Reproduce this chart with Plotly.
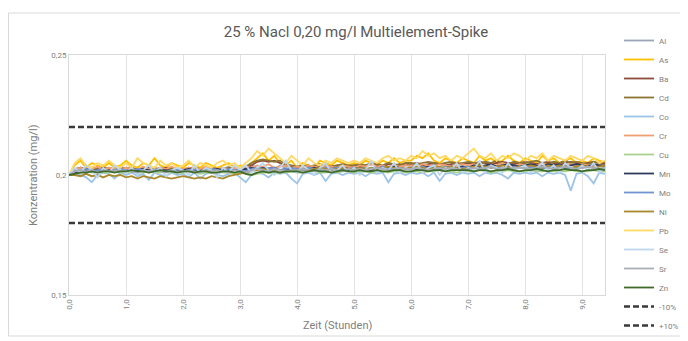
import plotly.graph_objects as go

# Zeit in Stunden
times = [0.0, 0.1, 0.2, 0.3, 0.4, 0.5, 0.6, 0.7, 0.8, 0.9,
         1.0, 1.1, 1.2, 1.3, 1.4, 1.5, 1.6, 1.7, 1.8, 1.9,
         2.0, 2.1, 2.2, 2.3, 2.4, 2.5, 2.6, 2.7, 2.8, 2.9,
         3.0, 3.1, 3.2, 3.3, 3.4, 3.5, 3.6, 3.7, 3.8, 3.9,
         4.0, 4.1, 4.2, 4.3, 4.4, 4.5, 4.6, 4.7, 4.8, 4.9,
         5.0, 5.1, 5.2, 5.3, 5.4, 5.5, 5.6, 5.7, 5.8, 5.9,
         6.0, 6.1, 6.2, 6.3, 6.4, 6.5, 6.6, 6.7, 6.8, 6.9,
         7.0, 7.1, 7.2, 7.3, 7.4, 7.5, 7.6, 7.7, 7.8, 7.9,
         8.0, 8.1, 8.2, 8.3, 8.4, 8.5, 8.6, 8.7, 8.8, 8.9,
         9.0, 9.1, 9.2, 9.3, 9.4]

# Konzentrationen in µg/l (werden in mg/l umgerechnet)
al = [200, 202, 203, 201.5, 202.5, 203, 201, 202, 203, 202,
      202.5, 201.5, 203, 202, 201, 202.5, 203, 202, 201.5, 203,
      202, 203, 201.5, 202.5, 203, 202, 201, 202.5, 203.5, 202,
      203, 202, 204, 203, 201.5, 203, 202.5, 204, 203, 202,
      203, 202, 203.5, 202.5, 204, 203, 202, 203.5, 202.5, 203,
      202.5, 204, 203, 202, 203.5, 204, 202.5, 203, 204, 203,
      203.5, 202.5, 204, 203, 204.5, 203, 202.5, 204, 203, 204,
      203, 204.5, 203.5, 202.5, 204, 203.5, 204.5, 203, 204, 203.5,
      204, 203, 204.5, 203.5, 203, 204.5, 204, 203, 204.5, 203.5,
      203, 204, 203.5, 204.5, 203.5]
as_ = [200, 204, 206, 203, 205, 204, 203, 205, 203, 204,
       206, 204, 203, 205, 204, 207, 204, 203, 205, 204,
       203, 205, 204, 203, 205, 204, 203, 204, 205, 203,
       204, 203, 205, 207, 209, 206, 208, 205, 204, 206,
       203, 205, 204, 203, 206, 205, 204, 206, 205, 204,
       205, 204, 206, 205, 204, 206, 205, 207, 205, 206,
       206, 208, 207, 209, 206, 205, 207, 206, 205, 207,
       206, 205, 208, 206, 207, 205, 206, 208, 206, 205,
       207, 206, 205, 208, 206, 207, 205, 206, 207, 205,
       206, 205, 207, 206, 205]
ba = [200, 202, 203, 202.5, 203, 202, 203, 202.5, 202, 203,
      202.5, 203, 202, 202.5, 203, 202, 202.5, 203, 202, 202.5,
      202, 203, 202.5, 202, 202.5, 203, 202, 202.5, 202, 203,
      202.5, 203, 204, 205.5, 206, 205.5, 206, 205, 204, 203.5,
      203, 203.5, 204, 203, 203.5, 204, 203.5, 204, 203, 203.5,
      204, 203.5, 204, 204.5, 204, 203.5, 204.5, 204, 204.5, 204,
      204.5, 205, 204, 204.5, 205, 204.5, 204, 204.5, 205, 204.5,
      205, 204.5, 205.5, 205, 204.5, 205, 205.5, 205, 204.5, 205,
      205.5, 205, 204.5, 205, 205.5, 205, 204.5, 205, 205.5, 205,
      204.5, 205, 205.5, 205, 204.5]
cd = [200, 202.5, 203, 202, 203, 202.5, 202, 203, 202.5, 202,
      203, 202.5, 202, 203, 202.5, 203, 202, 202.5, 203, 202.5,
      202.5, 202, 203, 202.5, 202, 203, 202.5, 202, 203, 202.5,
      203, 203.5, 205, 206, 206.5, 206, 205.5, 206, 204.5, 204,
      203.5, 204, 203.5, 204, 204.5, 204, 203.5, 204, 204.5, 204,
      204, 204.5, 204, 205, 204.5, 204, 205, 204.5, 204, 205,
      205, 204.5, 205, 205.5, 205, 204.5, 205, 205.5, 204.5, 205,
      205.5, 205, 204.5, 205.5, 205, 206, 205, 204.5, 205.5, 205,
      205, 205.5, 206, 205, 204.5, 205.5, 205, 206, 205, 205.5,
      205, 204.5, 205.5, 205, 205.5]
co = [200, 201, 200, 199, 197, 200, 201, 200.5, 198.5, 201,
      200, 201, 199.5, 200.5, 198, 201, 200, 199.5, 201, 200,
      200.5, 199, 201, 198.5, 200.5, 201, 200, 199.5, 200.5, 201,
      199, 197, 200, 201, 200.5, 199, 201, 200.5, 201, 198.5,
      196.5, 200.5, 201, 200, 201, 197.5, 200.5, 201, 200, 201,
      200.5, 201, 199.5, 201, 200.5, 201, 197, 200.5, 201, 200,
      201, 200.5, 201, 199.5, 201, 197.5, 200.5, 201, 200, 201,
      200.5, 201, 199.5, 201, 200.5, 201, 200, 198.5, 201, 200.5,
      201, 200.5, 201, 199.5, 201, 200.5, 201, 200, 193.5, 200.5,
      201, 199.5, 196.5, 201, 200.5]
cr = [200, 202, 203, 202, 202.5, 203.5, 202, 203, 202.5, 202,
      203, 202.5, 202, 203.5, 202.5, 202, 203, 202.5, 203.5, 202,
      202.5, 203, 202, 202.5, 203.5, 202, 202.5, 203, 202, 203,
      202.5, 203.5, 203, 204, 203.5, 204.5, 203, 203.5, 204, 203,
      203.5, 203, 204, 203.5, 203, 204, 203.5, 203, 204, 203.5,
      203, 204, 203.5, 204.5, 203.5, 204, 203, 204, 203.5, 204,
      204, 203.5, 204.5, 204, 203.5, 204.5, 204, 203.5, 204, 204.5,
      204, 204.5, 203.5, 204, 204.5, 204, 205, 204, 203.5, 204.5,
      204, 204.5, 204, 205, 204, 203.5, 204.5, 204, 204.5, 204,
      204.5, 204, 203.5, 204.5, 204]
cu = [200, 201, 201, 201.5, 201, 201.5, 201, 201, 201.5, 201,
      201, 201.5, 201, 201, 201.5, 201, 201, 201.5, 201, 201,
      201, 201.5, 201, 200.5, 201, 201, 201.5, 201, 201, 200.5,
      201, 200.5, 200, 200.5, 201, 201, 200.5, 201, 201, 201.5,
      201, 201, 201.5, 201.5, 201, 201, 201.5, 201, 201.5, 201.5,
      201, 201.5, 201.5, 201, 201.5, 201.5, 201, 201.5, 201.5, 201,
      201.5, 201.5, 201, 201.5, 201.5, 202, 201.5, 201.5, 201, 201.5,
      201.5, 201.5, 202, 201.5, 201, 201.5, 201.5, 202, 201.5, 201.5,
      201.5, 202, 201.5, 201.5, 202, 201.5, 201.5, 201.5, 202, 201.5,
      201.5, 201.5, 202, 201.5, 201.5]
mn = [200, 201, 201.5, 202, 201.5, 202, 202, 201.5, 202, 202,
      202, 201.5, 202, 202.5, 202, 201.5, 202, 202, 201.5, 202,
      202, 202.5, 202, 201.5, 202, 202, 202.5, 202, 201.5, 202,
      202, 202.5, 203, 202.5, 203, 202.5, 203, 202, 202.5, 202,
      202, 202.5, 202, 203, 202.5, 202, 202.5, 203, 202.5, 202,
      202.5, 203, 202.5, 202, 203, 202.5, 203, 203.5, 203, 202.5,
      203, 202.5, 203, 203.5, 203, 202.5, 203, 203.5, 203, 203.5,
      203, 204, 203.5, 204, 204.5, 203.5, 204, 204.5, 204, 203.5,
      204, 204.5, 204, 203.5, 204.5, 204, 204.5, 203.5, 204, 204.5,
      204, 203.5, 204.5, 204, 204]
mo = [200, 201.5, 202, 202.5, 201.5, 202, 202.5, 201.5, 202, 202.5,
      202, 201.5, 202.5, 202, 201.5, 202.5, 202, 201.5, 202, 202.5,
      201.5, 202, 202.5, 201.5, 202, 202.5, 202, 201.5, 202.5, 202,
      202, 201.5, 202.5, 203, 202, 202.5, 203, 202, 202.5, 203,
      202.5, 202, 203, 202.5, 202, 203, 202.5, 203, 202, 202.5,
      203, 202.5, 202, 203, 202.5, 203.5, 202.5, 203, 202.5, 203,
      202.5, 203, 203.5, 202.5, 203, 202.5, 203.5, 203, 202.5, 203,
      203.5, 203, 202.5, 203.5, 203, 203.5, 202.5, 203, 203.5, 203,
      203, 203.5, 203, 202.5, 203.5, 203, 203.5, 203, 202.5, 203.5,
      203, 203.5, 203, 202.5, 203]
ni = [200, 200, 199.5, 200.5, 199.5, 200, 199, 200, 199.5, 200,
      199, 199.5, 198.5, 199.5, 199, 198.5, 199.5, 199, 198.5, 199,
      199.5, 199, 198.5, 199, 198.5, 199.5, 199, 198.5, 199.5, 200,
      200.5, 201, 201.5, 202, 202.5, 202, 201.5, 202, 201.5, 202,
      202, 202.5, 202, 202.5, 203, 202.5, 202, 202.5, 203, 202.5,
      202.5, 203, 202.5, 203, 202.5, 203, 203.5, 203, 202.5, 203,
      203, 203.5, 203, 202.5, 203, 203.5, 203, 203.5, 203, 202.5,
      203, 203.5, 204, 203.5, 203, 203.5, 204, 203.5, 203, 203.5,
      203.5, 204, 203.5, 203, 204, 203.5, 204, 203.5, 203, 203.5,
      204, 203.5, 203, 203.5, 204]
pb = [200, 205, 207, 204, 203, 205, 204, 206, 204, 203,
      205, 203, 207, 205, 204, 203, 206, 204, 205, 203,
      204, 206, 203, 205, 204, 203, 205, 206, 204, 205,
      203, 205, 207, 210, 208, 211, 209, 207, 205, 208,
      206, 204, 207, 205, 204, 206, 205, 207, 206, 205,
      206, 205, 207, 206, 205, 207, 208, 206, 207, 206,
      208, 207, 210, 208, 209, 207, 208, 206, 208, 207,
      209, 211, 208, 207, 209, 206, 208, 207, 209, 208,
      206, 208, 207, 209, 206, 208, 207, 206, 208, 207,
      206, 208, 207, 205, 206]
se = [200, 203, 201, 204, 202, 199, 203, 201, 204, 202,
      201, 203, 200, 202, 204, 201, 203, 199.5, 202, 203,
      202, 200, 204, 201, 203, 202, 199, 203, 201, 204,
      202, 204, 201, 203, 205, 202, 200, 203, 206, 202,
      201, 204, 202, 200, 203, 205, 201, 202, 204, 201,
      203, 200, 202, 206, 201, 203, 202, 205, 201, 203,
      202, 205, 201, 203, 204, 200, 203, 202, 205, 201,
      203, 202, 206, 201, 204, 203, 201, 205, 202, 203,
      204, 201, 203, 205, 202, 204, 201, 205, 203, 202,
      204, 202, 205, 201, 203]
sr = [200, 201.5, 202, 201.5, 202, 201, 202, 201.5, 202, 201.5,
      202, 201.5, 201, 202, 201.5, 202, 201.5, 201, 202, 201.5,
      201.5, 202, 201.5, 201, 202, 201.5, 202, 201.5, 201, 202,
      201.5, 201, 202, 202.5, 202, 201.5, 202.5, 202, 201.5, 202,
      202, 202.5, 202, 201.5, 202.5, 202, 202.5, 202, 201.5, 202.5,
      202, 202.5, 202, 202.5, 203, 202.5, 202, 202.5, 203, 202.5,
      202.5, 203, 202.5, 202, 202.5, 203, 202.5, 203, 202.5, 202,
      202.5, 203, 202.5, 203, 203.5, 202.5, 203, 202.5, 203, 203,
      203, 202.5, 203, 203.5, 203, 202.5, 203, 203.5, 203, 202.5,
      203, 203.5, 203, 202.5, 203]
zn = [200, 200.5, 201, 201, 201.5, 201, 201.5, 201.5, 201, 201.5,
      201.5, 202, 201.5, 201.5, 201, 201.5, 202, 201.5, 201.5, 201,
      201.5, 201.5, 201, 201.5, 201.5, 201, 201, 201.5, 201.5, 201,
      201.5, 200.5, 200, 201, 201.5, 201, 201.5, 201, 201.5, 201.5,
      201.5, 201, 201.5, 202, 201.5, 201.5, 201, 201.5, 202, 201.5,
      201.5, 202, 201.5, 201.5, 202, 201.5, 201.5, 202, 202, 201.5,
      201.5, 202, 202, 201.5, 202, 202, 201.5, 202, 202, 202,
      202, 201.5, 202, 202, 201.5, 202, 202, 202.5, 202, 201.5,
      202, 202, 202.5, 202, 201.5, 202, 202, 202.5, 202, 202,
      201.5, 202, 202, 202.5, 202]

limit_lo = 0.18   # -10%
limit_hi = 0.22   # +10%

series_names = ["Al", "As", "Ba", "Cd", "Co", "Cr", "Cu", "Mn", "Mo", "Ni", "Pb", "Se", "Sr", "Zn"]
series_vals = [al, as_, ba, cd, co, cr, cu, mn, mo, ni, pb, se, sr, zn]
series_colors = ["#9AA6B8", "#FFC000", "#8E4A3A", "#8C7431", "#9DC3E6", "#F0A070",
                 "#A9D18E", "#2F3B5C", "#6F93D3", "#A88A2C", "#FFD966", "#BDD7EE",
                 "#A9AEB8", "#3F6A2A"]

x_tick_vals = [0, 1, 2, 3, 4, 5, 6, 7, 8, 9]
x_tick_text = ["0,0", "1,0", "2,0", "3,0", "4,0", "5,0", "6,0", "7,0", "8,0", "9,0"]
y_tick_vals = [0.15, 0.2, 0.25]
y_tick_text = ["0,15", "0,2", "0,25"]

for v in series_vals:
    assert len(v) == len(times), len(v)

fig = go.Figure()
for name, vals, col in zip(series_names, series_vals, series_colors):
    fig.add_trace(go.Scatter(x=times, y=[v / 1000 for v in vals], mode="lines", name=name,
                             line=dict(color=col, width=1.8)))

fig.add_trace(go.Scatter(x=[times[0], times[-1]], y=[limit_lo, limit_lo], mode="lines", name="-10%",
                         line=dict(color="#3A3A3A", width=2.5, dash="6px,3px")))
fig.add_trace(go.Scatter(x=[times[0], times[-1]], y=[limit_hi, limit_hi], mode="lines", name="+10%",
                         line=dict(color="#3A3A3A", width=2.5, dash="6px,3px")))

grey = "#808080"
# page body has an 8 px margin; figure is a bit wider than the window so the legend
# never forces the plot area to shrink
W, H = 710, 333
L, T, B = 61, 47, 46
R = W - 597
PW, PH = W - L - R, H - T - B

def px_x(px):
    return (px - L) / PW

def px_y(py):
    return (H - B - py) / PH

legend = dict(x=px_x(611), xanchor="left", y=px_y(18), yanchor="top",
              font=dict(size=8, color=grey), bgcolor="rgba(0,0,0,0)", tracegroupgap=0)

fig.update_layout(
    width=W, height=H,
    margin=dict(l=L, r=R, t=T, b=B),
    paper_bgcolor="white", plot_bgcolor="white",
    font=dict(family="Roboto, Arial, sans-serif", color=grey, size=8),
    title=dict(text="25 % Nacl 0,20 mg/l Multielement-Spike", x=348 / W, xanchor="center",
               y=1 - 24 / H, yanchor="middle", yref="container",
               font=dict(size=15, color="#595959")),
    showlegend=True,
    legend=legend,
    xaxis=dict(range=[0, 9.4], tickvals=x_tick_vals, ticktext=x_tick_text, tickangle=-90,
               showgrid=True, gridcolor="#E3E3E3", gridwidth=1, zeroline=False,
               showline=True, linecolor="#D9D9D9", mirror=True, ticks="",
               tickfont=dict(size=8, color=grey)),
    yaxis=dict(range=[0.15, 0.25], tickvals=y_tick_vals, ticktext=y_tick_text,
               showgrid=False, zeroline=False, showline=True, linecolor="#D9D9D9", mirror=True,
               ticks="", tickfont=dict(size=8, color=grey)),
    shapes=[dict(type="rect", xref="paper", yref="paper", x0=px_x(0.5), x1=px_x(674),
                 y0=px_y(328), y1=px_y(5),
                 line=dict(color="#D9D9D9", width=1), fillcolor="rgba(0,0,0,0)", layer="below")],
    annotations=[
        dict(text="Konzentration (mg/l)", xref="paper", yref="paper", x=px_x(25), y=0.5,
             textangle=-90, showarrow=False, font=dict(size=11, color=grey),
             xanchor="center", yanchor="middle"),
        dict(text="Zeit (Stunden)", xref="paper", yref="paper", x=0.5, y=px_y(317),
             showarrow=False, font=dict(size=11, color=grey), xanchor="center", yanchor="middle"),
    ],
)
try:
    fig.update_layout(legend_maxheight=1)
except Exception:
    pass

fig.write_html("out.html")
